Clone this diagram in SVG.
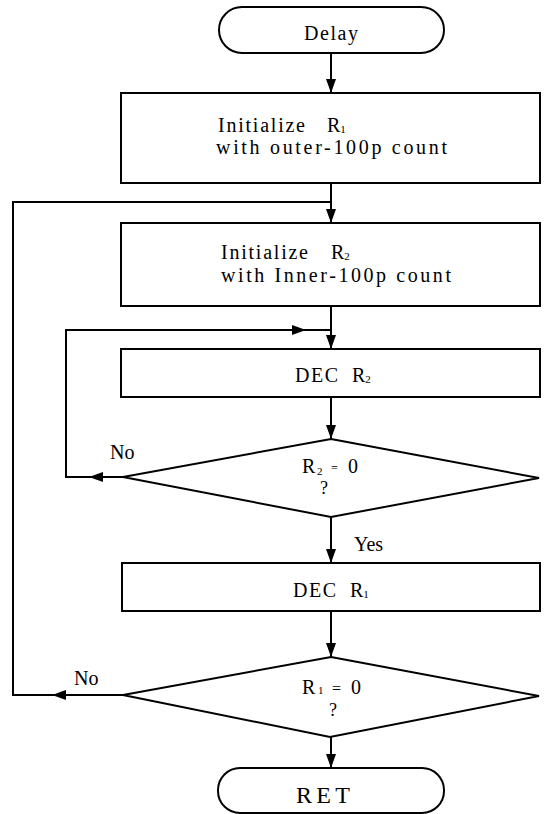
<svg xmlns="http://www.w3.org/2000/svg" width="548" height="814" viewBox="0 0 548 814">
<defs>
<style>
.shape{fill:#fff;stroke:#000;stroke-width:2}
.line{fill:none;stroke:#000;stroke-width:2}
text{font-family:"Liberation Serif","Times New Roman",serif;font-size:20px;fill:#000}
.sub{font-size:11px}
</style>
<marker id="arr" markerUnits="userSpaceOnUse" markerWidth="15" markerHeight="10" refX="14" refY="5" orient="auto">
<path d="M0,0 L14,5 L0,10 z" fill="#000"/>
</marker>
</defs>
<rect width="548" height="814" fill="#fff"/>
<g id="connectors">
<line class="line" x1="331" y1="53" x2="331" y2="93" marker-end="url(#arr)"/>
<line class="line" x1="331" y1="183" x2="331" y2="223" marker-end="url(#arr)"/>
<line class="line" x1="331" y1="306" x2="331" y2="349" marker-end="url(#arr)"/>
<line class="line" x1="331" y1="397" x2="331" y2="439" marker-end="url(#arr)"/>
<line class="line" x1="331" y1="517" x2="331" y2="563" marker-end="url(#arr)"/>
<line class="line" x1="331" y1="611" x2="331" y2="657" marker-end="url(#arr)"/>
<line class="line" x1="331" y1="737" x2="331" y2="768" marker-end="url(#arr)"/>
<line class="line" x1="123" y1="477" x2="89" y2="477" marker-end="url(#arr)"/>
<path class="line" d="M90,477 H66 V330 H306" marker-end="url(#arr)"/>
<line class="line" x1="304" y1="330" x2="331" y2="330"/>
<line class="line" x1="123" y1="695" x2="52" y2="695" marker-end="url(#arr)"/>
<path class="line" d="M53,695 H13 V202 H331"/>
<text x="110" y="459">No</text>
<text x="74" y="685">No</text>
<text x="354" y="551">Yes</text>
</g>
<g id="delay">
<rect class="shape" x="219" y="7" width="225" height="46" rx="23" ry="23"/>
<text x="304" y="40" textLength="54">Delay</text>
</g>
<g id="init-r1">
<rect class="shape" x="121" y="93" width="419" height="90"/>
<text x="218" y="132" textLength="87">Initialize</text>
<text x="327" y="132">R<tspan class="sub" dy="1">1</tspan></text>
<text x="216" y="154" textLength="231">with outer-100p count</text>
</g>
<g id="init-r2">
<rect class="shape" x="121" y="223" width="419" height="83"/>
<text x="221" y="259" textLength="87">Initialize</text>
<text x="331" y="259">R<tspan class="sub" dy="1">2</tspan></text>
<text x="221" y="282" textLength="230">with Inner-100p count</text>
</g>
<g id="dec-r2">
<rect class="shape" x="121" y="349" width="419" height="48"/>
<text x="295" y="382" textLength="43">DEC</text>
<text x="352" y="382">R<tspan class="sub" dy="1">2</tspan></text>
</g>
<g id="test-r2">
<polygon class="shape" points="331,439 539,478 331,517 123,477"/>
<text x="302" y="473">R<tspan class="sub" x="317" dy="2">2</tspan><tspan x="331" dy="-3" style="font-size:12px">=</tspan><tspan x="348" dy="1">0</tspan></text>
<text x="320" y="494" style="font-size:18px">?</text>
</g>
<g id="dec-r1">
<rect class="shape" x="122" y="563" width="418" height="48"/>
<text x="293" y="597" textLength="43">DEC</text>
<text x="350" y="597">R<tspan class="sub" dy="1">1</tspan></text>
</g>
<g id="test-r1">
<polygon class="shape" points="331,657 539,696 330,737 123,695"/>
<text x="302" y="694">R<tspan class="sub" x="318">1</tspan><tspan x="332" style="font-size:16px">=</tspan><tspan x="351">0</tspan></text>
<text x="329" y="716" style="font-size:18px">?</text>
</g>
<g id="ret">
<rect class="shape" x="218" y="768" width="226" height="45" rx="22" ry="22"/>
<text x="296" y="803" style="font-size:24px" textLength="54">RET</text>
</g>
</svg>
